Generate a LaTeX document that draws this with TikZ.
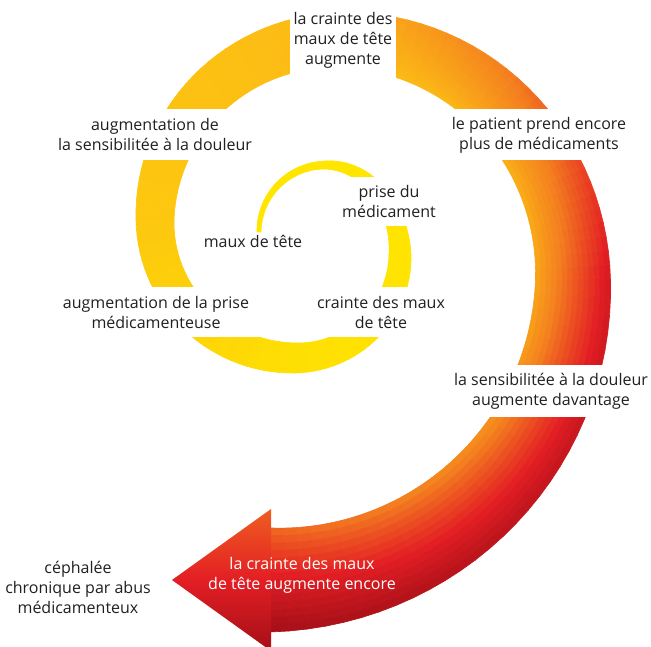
\documentclass[tikz,border=0pt]{standalone}
\usepackage{fontspec}
\setmainfont{Open Sans}
\usepackage{tikz}
\definecolor{SpYellow}{RGB}{255,229,0}
\definecolor{SpGold}{RGB}{252,187,21}
\definecolor{SpOrange}{RGB}{244,128,31}
\definecolor{SpRed}{RGB}{227,30,36}
\definecolor{SpDark}{RGB}{165,15,23}
\definecolor{SpText}{RGB}{35,31,32}
\tikzset{spirallabel/.style={align=center, text=SpText, inner sep=0pt,
  font=\fontsize{16}{20}\selectfont},
  gaplabel/.style={spirallabel, fill=white}}

% spiral: one quarter turn per entry (centre, radii), width and tint at the quarter ends
\def\spcx{{326,326,295,295,340,340,270}}
\def\spcy{{232,255,255,220,220,280,280}}
\def\spa{{67,74,105,140,185,233,303}}
\def\spb{{67,90,103,138,180,240,300}}
\def\spw{{4,8,22,30,38,55,75,104}}
\def\sphin{{0,0,0,0.03,0.2,0.28,0.38,0.6}}
\def\sphout{{0,0,0.01,0.05,0.22,0.33,0.85,1}}

\newcommand\spiraltint[1]{%
  \pgfmathsetmacro\sptint{#1}%
  \ifdim\sptint pt<0.3pt
    \pgfmathsetmacro\sppct{min(100,\sptint/0.3*100)}\colorlet{cellc}{SpGold!\sppct!SpYellow}%
  \else\ifdim\sptint pt<0.55pt
    \pgfmathsetmacro\sppct{min(100,(\sptint-0.3)/0.25*100)}\colorlet{cellc}{SpOrange!\sppct!SpGold}%
  \else\ifdim\sptint pt<0.8pt
    \pgfmathsetmacro\sppct{min(100,(\sptint-0.55)/0.25*100)}\colorlet{cellc}{SpRed!\sppct!SpOrange}%
  \else
    \pgfmathsetmacro\sppct{min(100,(\sptint-0.8)/0.2*100)}\colorlet{cellc}{SpDark!\sppct!SpRed}%
  \fi\fi\fi}

\begin{document}
\begin{tikzpicture}[x=1pt,y=-1pt]
\useasboundingbox (0,0) rectangle (651,647);

\foreach \i in {0,...,209}{
  \pgfmathtruncatemacro\qk{\i/30}
  \pgfmathtruncatemacro\ns{ifthenelse(\qk<5,1,14)}
  \pgfmathsetmacro\cx{\spcx[\qk]}
  \pgfmathsetmacro\cy{\spcy[\qk]}
  \pgfmathsetmacro\ra{\spa[\qk]}
  \pgfmathsetmacro\rb{\spb[\qk]}
  \pgfmathsetmacro\pa{3*\i}
  \pgfmathsetmacro\pb{3*\i+3}
  \pgfmathsetmacro\ta{(\pa-90*\qk)/90}
  \pgfmathsetmacro\tb{(\pb-90*\qk)/90}
  \pgfmathsetmacro\wa{\spw[\qk]+(\spw[\qk+1]-\spw[\qk])*\ta}
  \pgfmathsetmacro\wb{\spw[\qk]+(\spw[\qk+1]-\spw[\qk])*\tb}
  \pgfmathsetmacro\hin{\sphin[\qk]+(\sphin[\qk+1]-\sphin[\qk])*(\ta+\tb)/2}
  \pgfmathsetmacro\hout{\sphout[\qk]+(\sphout[\qk+1]-\sphout[\qk])*(\ta+\tb)/2}
  \foreach \j in {1,...,\ns}{
    \pgfmathsetmacro\ua{(\j-1)/\ns-0.5}
    \pgfmathsetmacro\ub{\j/\ns-0.5}
    \spiraltint{\hin+(\hout-\hin)*((\j-0.5)/\ns)^0.85}
    \fill[cellc, draw=cellc, line width=0.6pt]
      ({\cx-(\ra+\ua*\wa)*cos(\pa)},{\cy-(\rb+\ua*\wa)*sin(\pa)}) --
      ({\cx-(\ra+\ua*\wb)*cos(\pb)},{\cy-(\rb+\ua*\wb)*sin(\pb)}) --
      ({\cx-(\ra+\ub*\wb)*cos(\pb)},{\cy-(\rb+\ub*\wb)*sin(\pb)}) --
      ({\cx-(\ra+\ub*\wa)*cos(\pa)},{\cy-(\rb+\ub*\wa)*sin(\pa)}) -- cycle;
  }
}

% arrow head
\shade[top color=SpRed!35!SpOrange, bottom color=SpDark, middle color=SpRed]
  (271,509) -- (172,580) -- (271,651) -- cycle;

\node[gaplabel, minimum width=106pt, minimum height=86pt] (fearup) at (343,40)
  {la crainte des\\maux de tête\\augmente};
\node[gaplabel, minimum height=51pt] (sensup) at (155,135)
  {augmentation de\\la sensibilitée à la douleur};
\node[gaplabel, minimum height=51pt] (moredrugs) at (539,135)
  {le patient prend encore\\plus de médicaments};
\node[gaplabel, minimum height=49pt] (intake) at (389,202)
  {prise du\\médicament};
\node[gaplabel] (headache) at (253,241) {maux de tête};
\node[gaplabel, minimum width=236pt, minimum height=50pt] (moreintake) at (156,312)
  {augmentation de la prise\\médicamenteuse};
\node[gaplabel, minimum height=50pt] (fear) at (381,312)
  {crainte des maux\\de tête};
\node[gaplabel, minimum height=52pt] (sensmore) at (551,391)
  {la sensibilitée à la douleur\\augmente davantage};
\node[spirallabel, text=white] (fearmore) at (302,575)
  {la crainte des maux\\de tête augmente encore};
\node[spirallabel] (chronic) at (78,587)
  {céphalée\\chronique par abus\\médicamenteux};
\end{tikzpicture}
\end{document}
